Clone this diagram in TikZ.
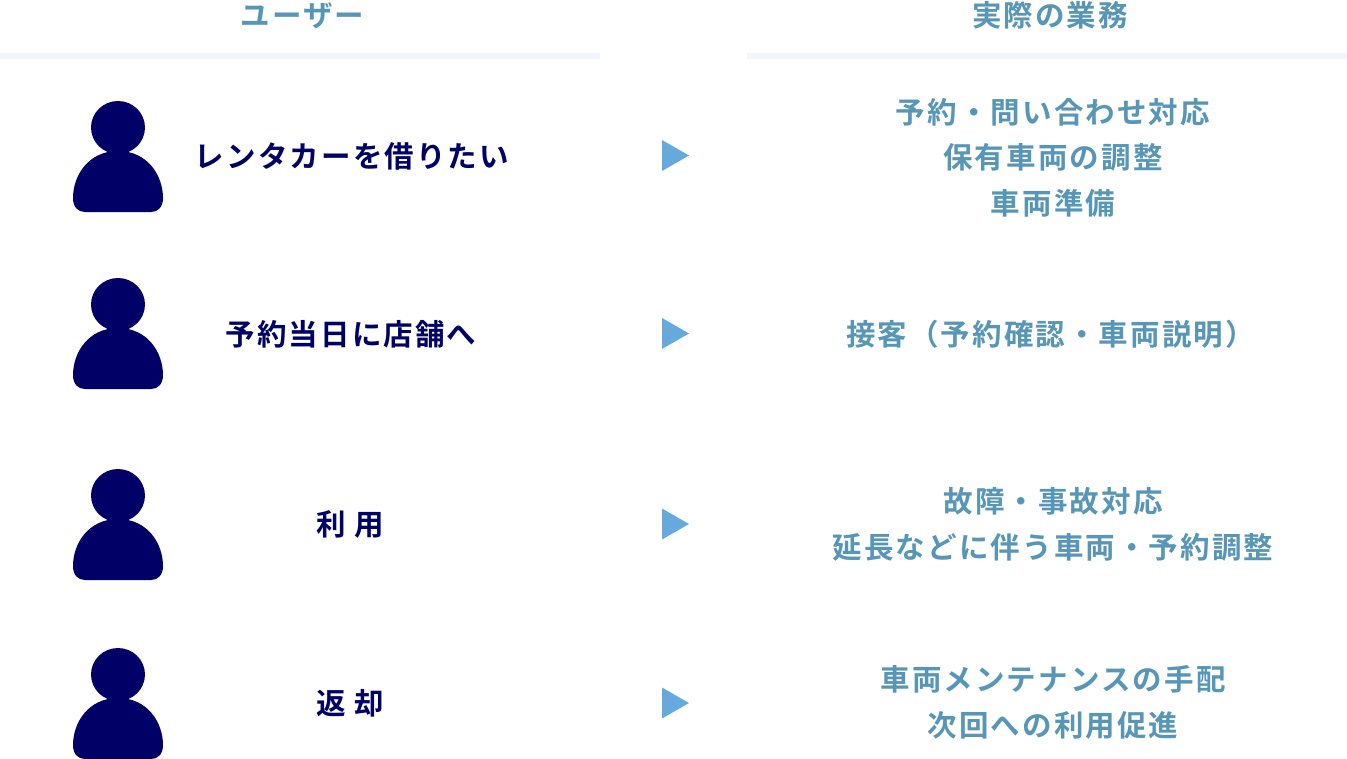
\documentclass[tikz,border=0pt]{standalone}
\usepackage{fontspec}
\newfontfamily\jpb[LetterSpace=7.2]{Noto Sans CJK JP Bold}
\definecolor{navy}{HTML}{000066}
\definecolor{teal}{HTML}{5796B6}
\definecolor{barc}{HTML}{F2F6FA}
\definecolor{tri}{HTML}{66AADD}
\tikzset{
 base/.style={inner sep=0pt,font=\jpb\fontsize{29.5}{45.5}\selectfont,align=center},
 usr/.style={base,text=navy},
 job/.style={base,text=teal},
 barline/.style={fill=barc,draw=none},
 arrowtri/.style={fill=tri,draw=none},
 person/.style={fill=navy,draw=none}
}
\newcommand{\persona}[2]{%
 \fill[person] (#1,#2+26.5) ellipse [x radius=27,y radius=26.5];
 \fill[person] (#1-45,#2+97) .. controls (#1-45,#2+75) and (#1-30,#2+50) .. (#1,#2+50)
   .. controls (#1+30,#2+50) and (#1+45,#2+75) .. (#1+45,#2+97)
   .. controls (#1+45,#2+106) and (#1+40,#2+111) .. (#1+33,#2+111) -- (#1-33,#2+111)
   .. controls (#1-40,#2+111) and (#1-45,#2+106) .. (#1-45,#2+97) -- cycle;
}
\newcommand{\playmark}[1]{\fill[arrowtri] (662,#1-15.5) -- (689,#1) -- (662,#1+15.5) -- cycle;}
\begin{document}
\begin{tikzpicture}[x=1pt,y=-1pt]
\useasboundingbox (0,0) rectangle (1347,758);
\fill[barline] (0,53) rectangle (600,59);
\fill[barline] (747,53) rectangle (1347,59);
\node[job] (h1) at (302.5,15.5) {ユーザー};
\node[job] (h2) at (1050,15.5) {実際の業務};
\persona{118}{101}\persona{118}{278}\persona{118}{469}\persona{118}{648}
\playmark{155.5}\playmark{333.5}\playmark{524}\playmark{703}
\node[usr] (u1) at (352,156.5) {レンタカーを借りたい};
\node[usr] (u2) at (351,334.5) {予約当日に店舗へ};
\node[usr] (u3) at (350,524.5) {利 用};
\node[usr] (u4) at (350,703.5) {返 却};
\node[job] (j1) at (1053,157.5) {予約・問い合わせ対応\\保有車両の調整\\車両準備};
\node[job] (j2) at (1050.5,334.5) {接客（予約確認・車両説明）};
\node[job] (j3) at (1053,524.5) {故障・事故対応\\延長などに伴う車両・予約調整};
\node[job] (j4) at (1053,702.5) {車両メンテナンスの手配\\次回への利用促進};
\end{tikzpicture}
\end{document}
